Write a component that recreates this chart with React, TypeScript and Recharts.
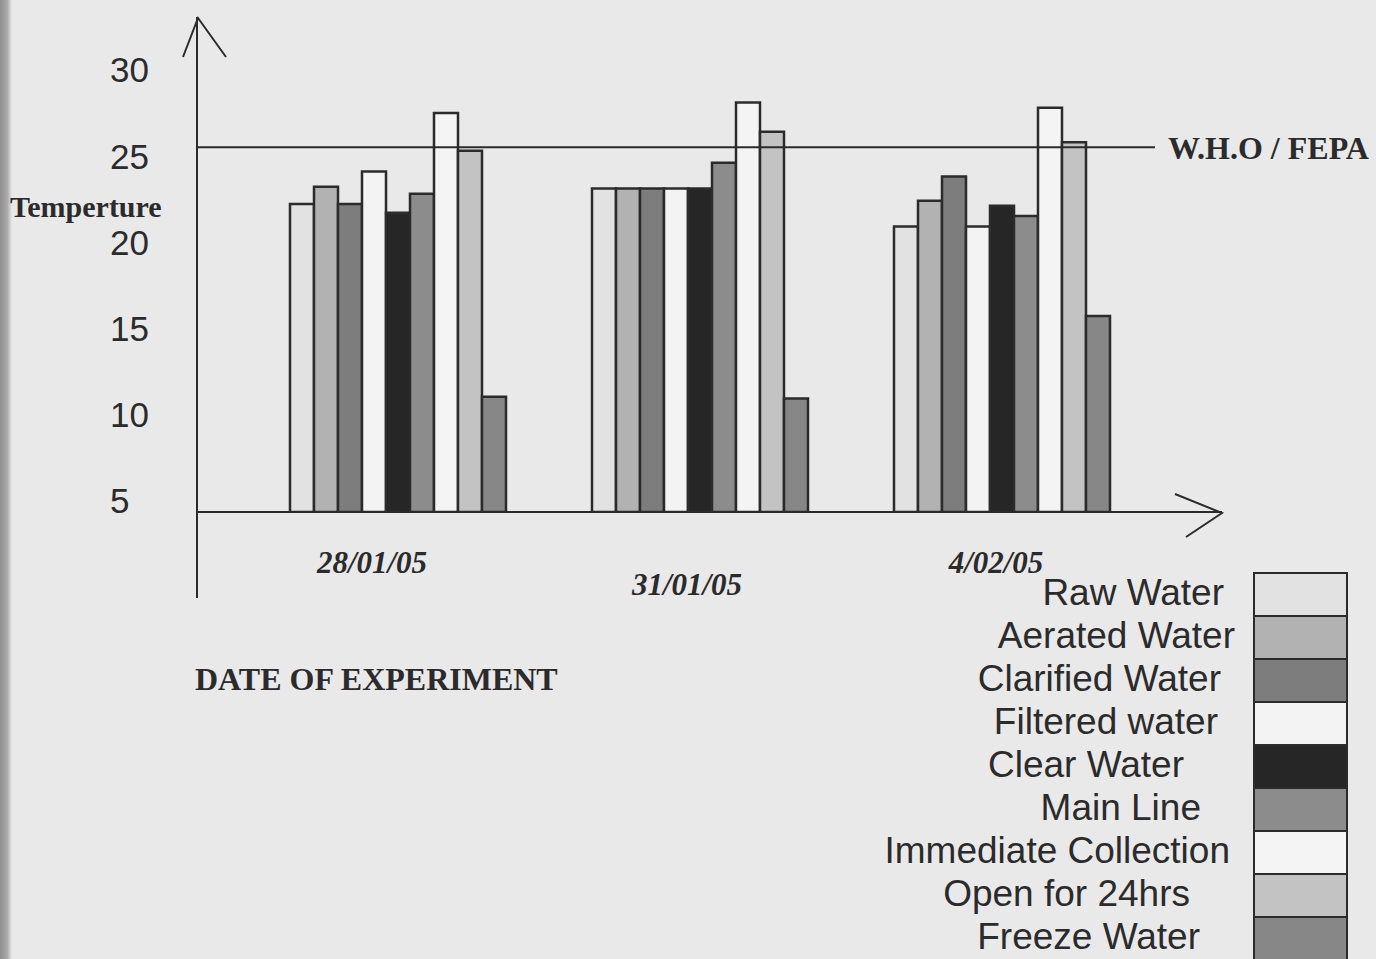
import React from 'react';
import { BarChart, Bar, XAxis, YAxis, ReferenceLine, Legend, Customized } from 'recharts';

// sampling dates
const dates = ['28/01/05', '31/01/05', '4/02/05'];

// temperature per sampling point, one value per date
const rawWater = [22.2, 23.1, 20.9];
const aeratedWater = [23.2, 23.1, 22.4];
const clarifiedWater = [22.2, 23.1, 23.8];
const filteredWater = [24.1, 23.1, 20.9];
const clearWater = [21.7, 23.1, 22.1];
const mainLine = [22.8, 24.6, 21.5];
const immediateCollection = [27.5, 28.1, 27.8];
const openFor24hrs = [25.3, 26.4, 25.8];
const freezeWater = [11.0, 10.9, 15.7];

const whoFepaLimit = 25.5;
const tempTicks = [5, 10, 15, 20, 25, 30];

const seriesKeys = ['raw', 'aerated', 'clarified', 'filtered', 'clear', 'main', 'immediate', 'open', 'freeze'];
const seriesNames = [
  'Raw Water',
  'Aerated Water',
  'Clarified Water',
  'Filtered water',
  'Clear Water',
  'Main Line',
  'Immediate Collection',
  'Open for 24hrs',
  'Freeze Water',
];
const seriesValues = [
  rawWater,
  aeratedWater,
  clarifiedWater,
  filteredWater,
  clearWater,
  mainLine,
  immediateCollection,
  openFor24hrs,
  freezeWater,
];

const rows = dates.map((date, i) => {
  const row: Record<string, string | number> = { date };
  seriesKeys.forEach((k, s) => {
    row[k] = seriesValues[s][i];
  });
  return row;
});

// greyscale fills
const fills = ['#e2e2e2', '#b2b2b2', '#7d7d7d', '#f3f3f3', '#262626', '#8c8c8c', '#f4f4f4', '#c3c3c3', '#878787'];

// layout
const W = 1376;
const H = 959;
const PLOT_LEFT = 197;
const PLOT_TOP = 20;
const PLOT_RIGHT = 1155;
const PLOT_BOTTOM = 512;
const X_AXIS_H = 90;
const INK = '#2b2b2b';
const SANS = "Arial, 'Liberation Sans', Helvetica, sans-serif";
const SERIF = "'Times New Roman', 'Liberation Serif', serif";

// hand-placed date labels and legend text edges
const dateShift = [-28, -15, -8];
const dateDrop = [0, 22, 0];
const legendRight = [1224, 1235, 1221, 1218, 1184, 1201, 1230, 1190, 1200];
const LEGEND_LEFT = 860;
const LEGEND_TOP = 572;
const ROW_H = 43;

const YTick = (props: any) => {
  const { x, y, payload } = props;
  return (
    <text x={x - 40} y={y} dy="0.36em" textAnchor="start" fill={INK} fontSize={35} fontFamily={SANS}>
      {payload.value}
    </text>
  );
};

const XTick = (props: any) => {
  const { x, y, payload, index } = props;
  return (
    <text
      x={x + dateShift[index]}
      y={y + 61 + dateDrop[index]}
      textAnchor="middle"
      fill={INK}
      fontSize={31}
      fontFamily={SERIF}
      fontWeight="bold"
      fontStyle="italic"
    >
      {payload.value}
    </text>
  );
};

// axis lines with open arrowheads, plus the free-standing titles
const AxisDecor = () => (
  <g stroke={INK} strokeWidth={2} fill="none">
    <line x1={PLOT_LEFT} y1={17} x2={PLOT_LEFT} y2={598} />
    <polyline points={`183,57 ${PLOT_LEFT + 1},18 226,57`} />
    <line x1={PLOT_LEFT} y1={PLOT_BOTTOM} x2={1222} y2={PLOT_BOTTOM} />
    <polyline points={`1175,494 1222,${PLOT_BOTTOM + 1} 1186,537`} />
    <text x={10} y={217} stroke="none" fill={INK} fontSize={30} fontFamily={SERIF} fontWeight="bold">
      Temperture
    </text>
    <text x={195} y={690} stroke="none" fill={INK} fontSize={32} fontFamily={SERIF} fontWeight="bold">
      DATE OF EXPERIMENT
    </text>
  </g>
);

// swatch column on the right with right-aligned names beside it
const LegendBox = () => (
  <div style={{ position: 'relative', width: W - LEGEND_LEFT, height: H - LEGEND_TOP }}>
    <div
      style={{
        position: 'absolute',
        left: 1253 - LEGEND_LEFT,
        top: 0,
        width: 95,
        border: `2px solid ${INK}`,
        boxSizing: 'border-box',
      }}
    >
      {seriesNames.map((name, i) => (
        <div
          key={name}
          style={{
            height: i === 0 ? ROW_H - 2 : ROW_H,
            background: fills[i],
            borderTop: i === 0 ? 'none' : `2px solid ${INK}`,
            boxSizing: 'border-box',
          }}
        />
      ))}
    </div>
    {seriesNames.map((name, i) => (
      <div
        key={'t' + name}
        style={{
          position: 'absolute',
          right: W - legendRight[i],
          top: i * ROW_H - 1,
          height: ROW_H,
          lineHeight: ROW_H + 'px',
          fontSize: 37,
          fontFamily: SANS,
          color: INK,
          whiteSpace: 'nowrap',
        }}
      >
        {name}
      </div>
    ))}
  </div>
);

export default function App() {
  return (
    <div
      style={{
        position: 'fixed',
        left: 0,
        top: 0,
        width: W,
        height: H,
        background: '#e9e9e9',
        overflow: 'hidden',
      }}
    >
      <div
        style={{
          position: 'absolute',
          left: 0,
          top: 0,
          width: 12,
          height: H,
          background: 'linear-gradient(to right, #8f8f8f, #a9a9a9 60%, #e9e9e9)',
        }}
      />
      <BarChart
        width={W}
        height={H}
        data={rows}
        margin={{ top: PLOT_TOP, right: W - PLOT_RIGHT, left: 0, bottom: H - PLOT_BOTTOM - X_AXIS_H }}
        barGap={0}
        barCategoryGap={41}
      >
        <XAxis
          dataKey="date"
          height={X_AXIS_H}
          axisLine={false}
          tickLine={false}
          tickSize={0}
          tickMargin={0}
          padding={{ left: 52, right: 0 }}
          tick={XTick}
          interval={0}
        />
        <YAxis
          type="number"
          width={PLOT_LEFT}
          domain={[4.3, 32.9]}
          ticks={tempTicks}
          allowDataOverflow
          axisLine={false}
          tickLine={false}
          tickSize={0}
          tickMargin={47}
          tick={YTick}
        />
        {seriesKeys.map((k, s) => (
          <Bar
            key={k}
            dataKey={k}
            name={seriesNames[s]}
            fill={fills[s]}
            stroke={INK}
            strokeWidth={2.5}
            isAnimationActive={false}
          />
        ))}
        <ReferenceLine
          y={whoFepaLimit}
          stroke={INK}
          strokeWidth={2}
          label={{
            value: 'W.H.O / FEPA',
            position: 'right',
            offset: 13,
            fill: INK,
            fontSize: 32,
            fontFamily: SERIF,
            fontWeight: 'bold',
          }}
        />
        <Customized component={AxisDecor} />
        <Legend
          layout="vertical"
          align="center"
          verticalAlign="middle"
          content={LegendBox}
          wrapperStyle={{ position: 'absolute', left: LEGEND_LEFT, top: LEGEND_TOP, width: W - LEGEND_LEFT, height: H - LEGEND_TOP }}
        />
      </BarChart>
    </div>
  );
}
